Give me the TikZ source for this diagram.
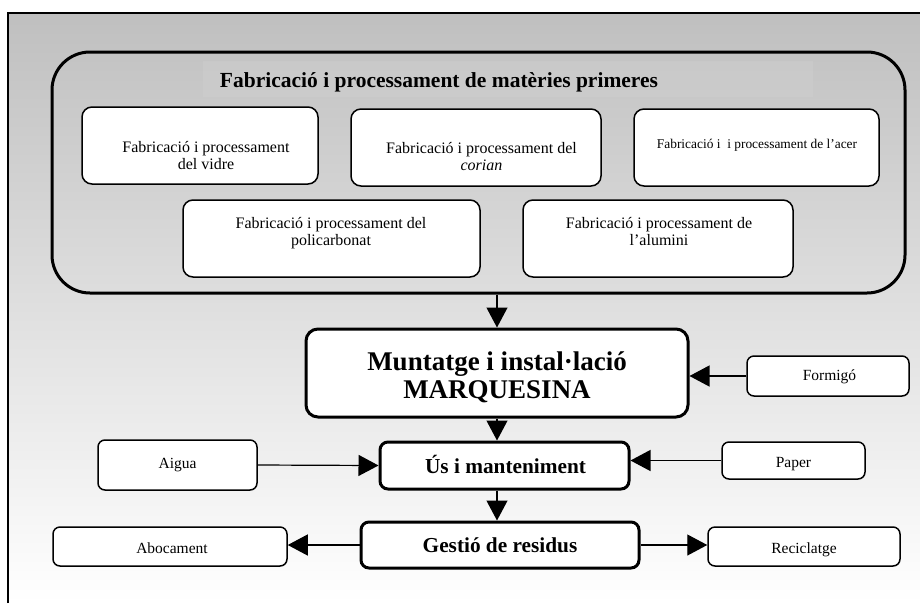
\documentclass[tikz,border=0pt]{standalone}
\usepackage{fontspec}
\setmainfont{Liberation Serif}
\usetikzlibrary{arrows.meta}

\tikzset{
  frameline/.style={line width=1.2pt, draw=black},
  rawbox/.style={draw=black, line width=3pt, rounded corners=38pt},
  subbox/.style={draw=black, fill=white, line width=1.5pt, rounded corners=10pt, inner sep=0pt},
  stagebox/.style={draw=black, fill=white, line width=3pt, rounded corners=10pt, inner sep=0pt},
  sidebox/.style={draw=black, fill=white, line width=1.5pt, rounded corners=7pt, inner sep=0pt},
  flow/.style={line width=1.2pt, -{Triangle[length=20pt,width=21pt]}},
  txt/.style={font=\fontsize{16}{17}\selectfont, align=center, anchor=base, inner sep=0pt},
  smalltxt/.style={font=\fontsize{13.4}{15}\selectfont, align=center, anchor=base, inner sep=0pt},
  sidetxt/.style={font=\fontsize{15.5}{17}\selectfont, anchor=base, inner sep=0pt},
  stagetxt/.style={font=\bfseries\fontsize{21.3}{24}\selectfont, anchor=base, inner sep=0pt},
}

\begin{document}
\begin{tikzpicture}[x=1pt, y=-1pt]
  \useasboundingbox (0,0) rectangle (920,603);

  % shaded frame, open to the right and bottom
  \shade[top color=black!25, bottom color=white] (8,13) rectangle (920,603);
  \draw[frameline] (8,603) -- (8,13) -- (920,13);

  % raw materials group
  \node[rawbox, minimum width=853pt, minimum height=241pt] (raw) at (478.5,172.5) {};
  \fill[white, opacity=0.07] (203,61) rectangle (813,97);
  \node[font=\bfseries\fontsize{21.5}{24}\selectfont, anchor=base, inner sep=0pt]
    (rawtitle) at (439,87.5) {Fabricació i processament de matèries primeres};

  \node[subbox, minimum width=236pt, minimum height=77pt] (vidre)  at (200,145.5) {};
  \node[subbox, minimum width=250pt, minimum height=77pt] (corian) at (476,147.5) {};
  \node[subbox, minimum width=245pt, minimum height=77pt] (acer)   at (756.5,147.5) {};
  \node[subbox, minimum width=297pt, minimum height=77pt] (poli)   at (331.5,238.5) {};
  \node[subbox, minimum width=270pt, minimum height=77pt] (alum)   at (658,238.5) {};

  % two-line labels are placed by the baseline of their last line
  \node[txt] (vidre-t)  at (206,169)   {Fabricació i processament\\del vidre};
  \node[txt] (corian-t) at (481.5,170) {Fabricació i processament del\\\textit{corian}};
  \node[smalltxt] (acer-t) at (757,148) {Fabricació i\ \ i processament de l’acer};
  \node[txt] (poli-t)   at (331,245)   {Fabricació i processament del\\policarbonat};
  \node[txt] (alum-t)   at (659,245)   {Fabricació i processament de\\l’alumini};

  % life-cycle stages
  \node[stagebox, rounded corners=12pt, minimum width=382pt, minimum height=88pt] (muntatge) at (497,373) {};
  \node[font=\bfseries\fontsize{27}{28}\selectfont, align=center, anchor=base, inner sep=0pt]
    (muntatge-t) at (497,398) {Muntatge i instal·lació\\MARQUESINA};

  \node[stagebox, rounded corners=8pt, minimum width=249pt, minimum height=47pt] (us) at (504.5,465.5) {};
  \node[stagetxt] (us-t) at (505.5,473) {Ús i manteniment};

  \node[stagebox, rounded corners=8pt, minimum width=278pt, minimum height=46pt] (gestio) at (500,545) {};
  \node[stagetxt] (gestio-t) at (500,552.7) {Gestió de residus};

  % inputs and outputs
  \node[sidebox, minimum width=159pt, minimum height=50pt] (aigua)     at (177.5,465) {};
  \node[sidebox, minimum width=234pt, minimum height=39pt] (abocament) at (170,546.5) {};
  \node[sidebox, minimum width=162pt, minimum height=40pt] (formigo)   at (828,376) {};
  \node[sidebox, minimum width=143pt, minimum height=37pt] (paper)     at (793.5,460.5) {};
  \node[sidebox, minimum width=192pt, minimum height=39pt] (reciclatge) at (804,546.5) {};

  \node[sidetxt] (aigua-t)      at (177.5,468) {Aigua};
  \node[sidetxt] (abocament-t)  at (172,553)   {Abocament};
  \node[sidetxt] (formigo-t)    at (829.5,380) {Formigó};
  \node[sidetxt] (paper-t)      at (793.5,467) {Paper};
  \node[sidetxt] (reciclatge-t) at (804,553)   {Reciclatge};

  % flow connectors
  \draw[flow] (muntatge.north |- raw.south) -- (muntatge.north);
  \draw[flow] (muntatge.south) -- (muntatge.south |- us.north);
  \draw[flow] (muntatge.south |- us.south) -- (muntatge.south |- gestio.north);
  \draw[flow] (formigo.west) -- (muntatge.east |- formigo.west);
  \draw[flow] (aigua.east) -- (us.west);
  \draw[flow] (paper.west) -- (us.east |- paper.west);
  \draw[flow] (gestio.west) -- (abocament.east |- gestio.west);
  \draw[flow] (gestio.east) -- (reciclatge.west |- gestio.east);
\end{tikzpicture}
\end{document}
